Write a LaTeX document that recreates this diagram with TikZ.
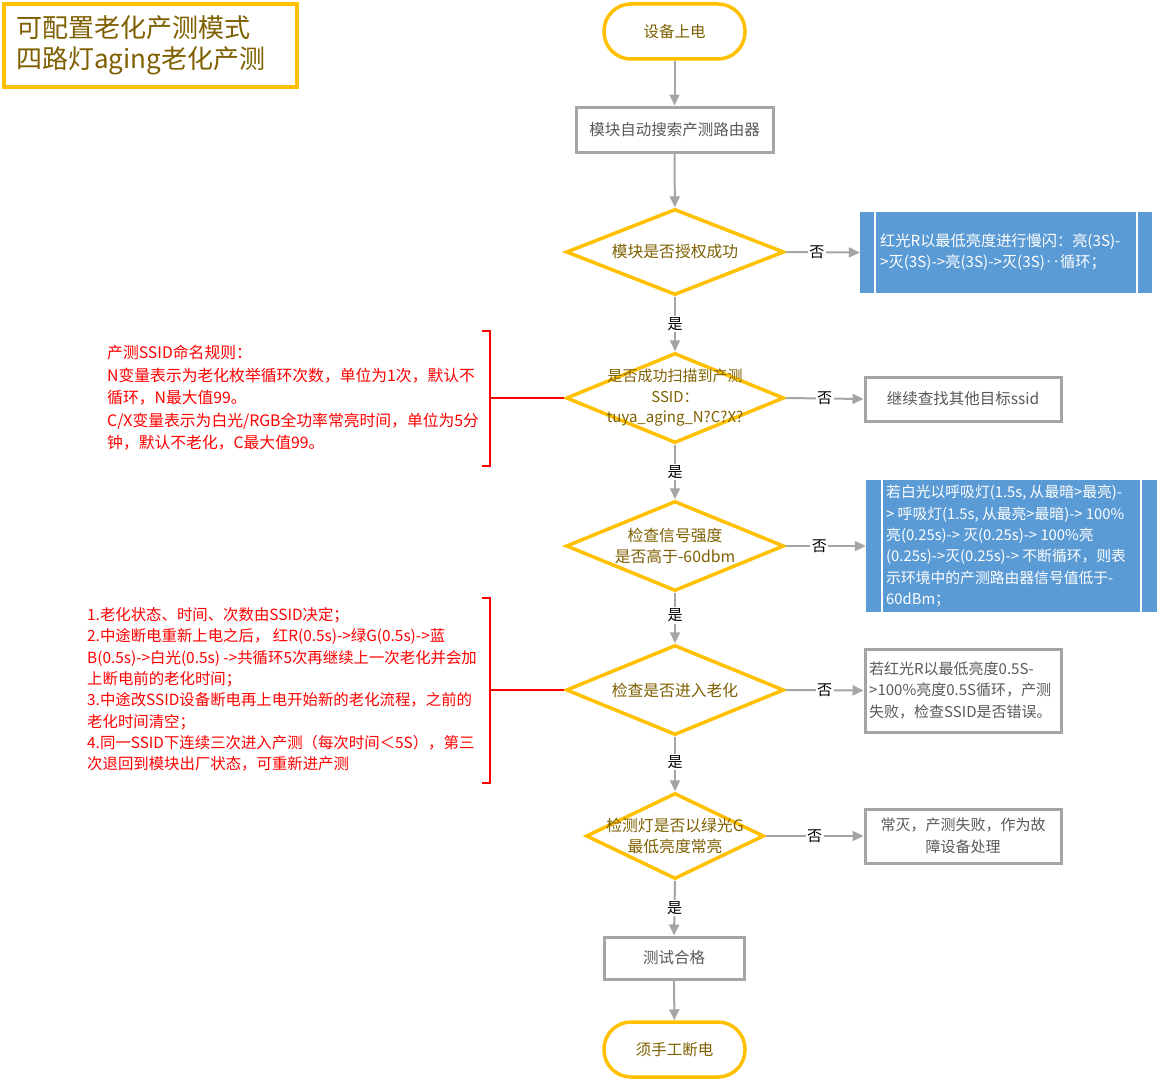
\documentclass[tikz,border=0pt]{standalone}
\usepackage{fontspec}
\setmainfont{Noto Sans CJK SC}
\usetikzlibrary{shapes.geometric,arrows.meta}
\definecolor{orng}{HTML}{FFC000}
\definecolor{gry}{HTML}{A5A5A5}
\definecolor{blu}{HTML}{5B9BD5}
\definecolor{gold}{HTML}{7F6000}
\definecolor{txt}{HTML}{595959}
\definecolor{rd}{HTML}{FF0000}
\tikzset{
  term/.style={draw=orng, line width=3.5pt, rounded corners=27pt, minimum width=141pt, minimum height=55pt, text=gold, font=\fontsize{15.5}{19}\selectfont, inner sep=0pt},
  proc/.style={draw=gry, line width=3pt, text=txt, font=\fontsize{15.5}{19}\selectfont, inner sep=0pt},
  dec/.style={diamond, draw=orng, line width=3.5pt, inner sep=0pt},
  dectext/.style={text=gold, align=center, font=\fontsize{15.8}{20.5}\selectfont, inner sep=0pt},
  bluebox/.style={fill=blu, inner sep=0pt},
  bluetext/.style={text=white, align=left, font=\fontsize{14.8}{21.3}\selectfont, inner sep=0pt, anchor=west},
  grtext/.style={text=txt, font=\fontsize{15}{21.5}\selectfont, inner sep=0pt},
  redtext/.style={text=rd, align=left, font=\fontsize{15.8}{22.5}\selectfont, inner sep=0pt, anchor=west},
  arr/.style={draw=gry, line width=2pt, -{Triangle[length=11pt,width=10pt]}},
  lab/.style={fill=white, text=black, font=\fontsize{15}{18}\selectfont, inner sep=1.5pt},
  brk/.style={draw=rd, line width=2pt},
}
\begin{document}
\begin{tikzpicture}[x=1pt,y=-1pt]
\useasboundingbox[fill=white] (0,0) rectangle (1161,1081);

% title
\node[draw=orng, line width=3.5pt, minimum width=293pt, minimum height=83pt, inner sep=0pt] (title) at (150.5,45.5) {};
\node[text=gold, align=left, anchor=west, inner sep=0pt, font=\fontsize{26}{31}\selectfont] (titletext) at (16,45.5) {可配置老化产测模式\\四路灯aging老化产测};

% main flow
\node[term] (start) at (674.5,31.5) {设备上电};
\node[proc, minimum width=197pt, minimum height=45pt] (p1) at (674.5,129.5) {模块自动搜索产测路由器};

\node[dec, minimum width=218pt, minimum height=86pt] (d1) at (675,252) {};
\node[dectext] (d1t) at (d1) {模块是否授权成功};

\node[dec, minimum width=218pt, minimum height=90pt] (d2) at (675,398) {};
\node[dectext, font=\fontsize{15}{20.5}\selectfont] (d2t) at (d2) {是否成功扫描到产测\\SSID：\\tuya\_aging\_N?C?X?};

\node[dec, minimum width=218pt, minimum height=90pt] (d3) at (675,546) {};
\node[dectext] (d3t) at (d3) {检查信号强度\\是否高于-60dbm};

\node[dec, minimum width=218pt, minimum height=90pt] (d4) at (675,690) {};
\node[dectext] (d4t) at (d4) {检查是否进入老化};

\node[dec, minimum width=178pt, minimum height=86pt] (d5) at (675,836) {};
\node[dectext] (d5t) at (d5) {检测灯是否以绿光G\\最低亮度常亮};

\node[proc, minimum width=140pt, minimum height=42pt] (p2) at (674,958) {测试合格};
\node[term] (end) at (674.5,1049.5) {须手工断电};

% right side boxes
\node[bluebox, minimum width=292pt, minimum height=81pt] (b1) at (1006,252.5) {};
\draw[white, line width=1.5pt] (875,212) -- (875,293) (1137,212) -- (1137,293);
\node[bluetext, font=\fontsize{15.2}{21.3}\selectfont] (b1t) at (880,252) {红光R以最低亮度进行慢闪：亮(3S)-\\>灭(3S)->亮(3S)->灭(3S)‥循环；};

\node[proc, minimum width=196pt, minimum height=44pt] (g2) at (963,399) {继续查找其他目标ssid};

\node[bluebox, minimum width=291pt, minimum height=132pt] (b2) at (1011.5,546) {};
\draw[white, line width=1.5pt] (882,480) -- (882,612) (1141,480) -- (1141,612);
\node[bluetext] (b2t) at (886,546) {若白光以呼吸灯(1.5s, 从最暗>最亮)-\\> 呼吸灯(1.5s,  从最亮>最暗)-> 100\%\\亮(0.25s)-> 灭(0.25s)->  100\%亮\\(0.25s)->灭(0.25s)-> 不断循环，则表\\示环境中的产测路由器信号值低于-\\60dBm；};

\node[proc, minimum width=196pt, minimum height=83pt] (g4) at (963,690.5) {};
\node[grtext, align=left, anchor=west] (g4t) at (869,690) {若红光R以最低亮度0.5S-\\>100\%亮度0.5S循环，产测\\失败，检查SSID是否错误。};

\node[proc, minimum width=196pt, minimum height=54pt] (g5) at (963,836) {};
\node[grtext, align=center] (g5t) at (g5) {常灭，产测失败，作为故\\障设备处理};

% connectors
\draw[arr] (start) -- (p1);
\draw[arr] (p1) -- (d1);
\draw[arr] (d1.east) -- node[lab, pos=0.42] {否} (b1.west);
\draw[arr] (d1.south) -- node[lab] {是} (d2.north);
\draw[arr] (d2.east) -- node[lab] {否} (g2.west);
\draw[arr] (d2.south) -- node[lab] {是} (d3.north);
\draw[arr] (d3.east) -- node[lab, pos=0.42] {否} (b2.west);
\draw[arr] (d3.south) -- node[lab, pos=0.45] {是} (d4.north);
\draw[arr] (d4.east) -- node[lab] {否} (g4.west);
\draw[arr] (d4.south) -- node[lab, pos=0.47] {是} (d5.north);
\draw[arr] (d5.east) -- node[lab] {否} (g5.west);
\draw[arr] (d5.south) -- node[lab] {是} (p2.north);
\draw[arr] (p2) -- (end);

% red annotations
\coordinate (br1) at (490,398);
\draw[brk] (d2.west) -- (br1);
\draw[brk] (482,331) -- (490,331) -- (490,466) -- (482,466);
\node[redtext] (r1) at (107,398) {产测SSID命名规则：\\N变量表示为老化枚举循环次数，单位为1次，默认不\\循环，N最大值99。\\C/X变量表示为白光/RGB全功率常亮时间，单位为5分\\钟，默认不老化，C最大值99。};

\coordinate (br2) at (490,690);
\draw[brk] (d4.west) -- (br2);
\draw[brk] (482,598) -- (490,598) -- (490,783) -- (482,783);
\node[redtext, font=\fontsize{15.4}{21.3}\selectfont] (r2) at (87,689.5) {1.老化状态、时间、次数由SSID决定；\\2.中途断电重新上电之后， 红R(0.5s)->绿G(0.5s)->蓝\\B(0.5s)->白光(0.5s) ->共循环5次再继续上一次老化并会加\\上断电前的老化时间；\\3.中途改SSID设备断电再上电开始新的老化流程，之前的\\老化时间清空；\\4.同一SSID下连续三次进入产测（每次时间＜5S），第三\\次退回到模块出厂状态，可重新进产测};
\end{tikzpicture}
\end{document}
